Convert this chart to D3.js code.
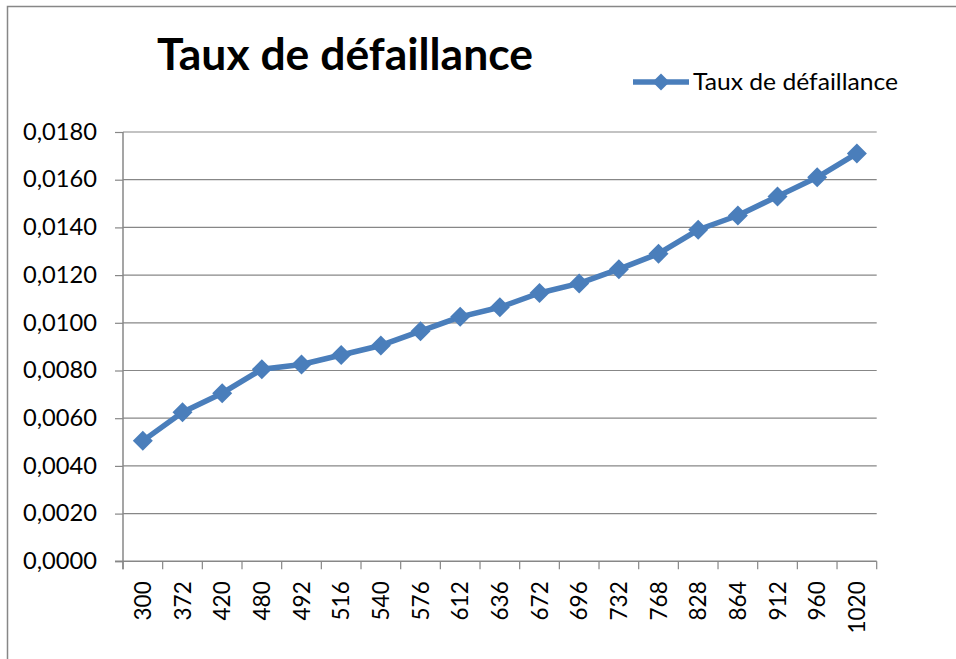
<!DOCTYPE html>
<html>
<head>
<meta charset="utf-8">
<script src="https://cdn.jsdelivr.net/npm/d3@7.9.0/dist/d3.min.js"></script>
<style>
  html, body { margin: 0; padding: 0; background: #fff; }
  svg { display: block; font-family: Lato, "Open Sans", sans-serif; }
</style>
</head>
<body>
<svg id="chart" width="956" height="659"></svg>
<script>
// chart data
const categories = ['300', '372', '420', '480', '492', '516', '540', '576', '612', '636',
  '672', '696', '732', '768', '828', '864', '912', '960', '1020'];
const tauxDefaillance = [0.00505, 0.00625, 0.00705, 0.00805, 0.00825, 0.00865, 0.00905, 0.00965,
  0.01025, 0.01065, 0.01125, 0.01165, 0.01225, 0.0129, 0.0139, 0.0145, 0.0153, 0.0161, 0.0171];
const yTicks = [0, 0.002, 0.004, 0.006, 0.008, 0.010, 0.012, 0.014, 0.016, 0.018];
const seriesName = 'Taux de défaillance';
const chartTitle = 'Taux de défaillance';

const svg = d3.select('#chart');
const blue = '#4a7ebb';
const gray = '#878787';

// outer chart border (only top and left visible)
svg.append('rect')
  .attr('x', 7.5).attr('y', 6.5)
  .attr('width', 1000).attr('height', 1000)
  .attr('fill', 'none').attr('stroke', gray).attr('stroke-width', 1.5);

const x = d3.scaleBand().domain(categories).range([123, 876.7]).padding(0);
const y = d3.scaleLinear().domain([0, 0.018]).range([561.3, 132]);

// gridlines
svg.append('g')
  .selectAll('line')
  .data(yTicks.filter(d => d > 0))
  .join('line')
  .attr('x1', 123).attr('x2', 876.7)
  .attr('y1', d => y(d)).attr('y2', d => y(d))
  .attr('stroke', gray).attr('stroke-width', 1.2);

// y axis
const yAxis = svg.append('g')
  .attr('transform', 'translate(123,0)')
  .call(d3.axisLeft(y).tickValues(yTicks).tickSize(8).tickPadding(18)
    .tickFormat(d => d.toFixed(4).replace('.', ',')));
yAxis.select('.domain').remove();
yAxis.selectAll('.tick line').attr('stroke', gray).attr('stroke-width', 1.2);
yAxis.selectAll('text')
  .attr('font-size', 22.5).attr('fill', '#000')
  .attr('font-family', 'Lato, sans-serif')
  .attr('textLength', 74).attr('lengthAdjust', 'spacingAndGlyphs');

// vertical axis line (extends down to tick length)
svg.append('line')
  .attr('x1', 123).attr('x2', 123)
  .attr('y1', y(0.018)).attr('y2', y(0) + 8)
  .attr('stroke', gray).attr('stroke-width', 1.5);

// x axis: line + boundary ticks
svg.append('line')
  .attr('x1', 115).attr('x2', 876.7)
  .attr('y1', y(0)).attr('y2', y(0))
  .attr('stroke', gray).attr('stroke-width', 1.5);

const bounds = categories.map(c => x(c)).concat([x(categories[categories.length - 1]) + x.bandwidth()]);
svg.append('g')
  .selectAll('line')
  .data(bounds)
  .join('line')
  .attr('x1', d => d).attr('x2', d => d)
  .attr('y1', y(0)).attr('y2', y(0) + 8)
  .attr('stroke', gray).attr('stroke-width', 1.2);

const xAxis = svg.append('g')
  .attr('transform', `translate(0,${y(0)})`)
  .call(d3.axisBottom(x).tickSize(0).tickPadding(0));
xAxis.select('.domain').remove();
xAxis.selectAll('text')
  .attr('font-size', 22.5).attr('fill', '#000')
  .attr('font-family', 'Lato, sans-serif')
  .attr('transform', 'rotate(-90)')
  .attr('text-anchor', 'end')
  .attr('x', -20).attr('y', 0).attr('dy', '0.36em');

// series line
const pts = categories.map((c, i) => ({ c, v: tauxDefaillance[i] }));
svg.append('path')
  .datum(pts)
  .attr('d', d3.line().x(d => x(d.c) + x.bandwidth() / 2).y(d => y(d.v)))
  .attr('fill', 'none').attr('stroke', blue)
  .attr('stroke-width', 5.5).attr('stroke-linejoin', 'round');

const diamond = s => `M0,${-s}L${s},0L0,${s}L${-s},0Z`;
svg.append('g')
  .selectAll('path')
  .data(pts)
  .join('path')
  .attr('transform', d => `translate(${x(d.c) + x.bandwidth() / 2},${y(d.v)})`)
  .attr('d', diamond(10))
  .attr('fill', blue);

// title
svg.append('text')
  .attr('x', 157).attr('y', 70)
  .attr('font-size', 43).attr('font-weight', 'bold')
  .attr('font-family', 'Lato, sans-serif')
  .attr('textLength', 376).attr('lengthAdjust', 'spacingAndGlyphs')
  .text(chartTitle);

// legend
const lg = svg.append('g');
lg.append('line')
  .attr('x1', 633).attr('x2', 689).attr('y1', 82).attr('y2', 82)
  .attr('stroke', blue).attr('stroke-width', 5.5);
lg.append('path')
  .attr('transform', 'translate(661,82)')
  .attr('d', diamond(8.5)).attr('fill', blue);
lg.append('text')
  .attr('x', 693).attr('y', 89.5)
  .attr('font-size', 24)
  .attr('font-family', 'Lato, sans-serif')
  .attr('textLength', 205).attr('lengthAdjust', 'spacingAndGlyphs')
  .text(seriesName);
</script>
</body>
</html>
